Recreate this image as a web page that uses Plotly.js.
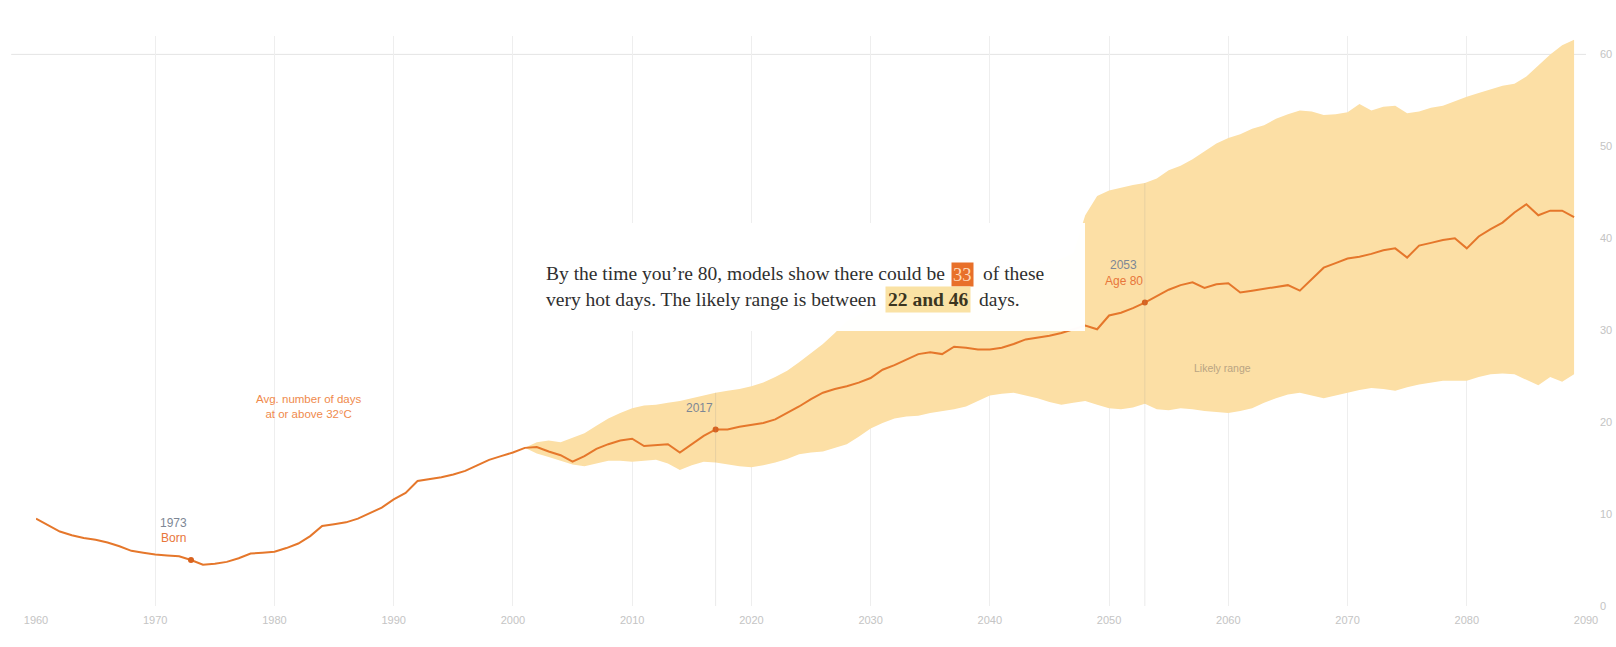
<!DOCTYPE html>
<html>
<head>
<meta charset="utf-8">
<script src="https://cdn.plot.ly/plotly-3.0.1.min.js"></script>
<style>
  html, body { margin: 0; padding: 0; background: #ffffff; }
  #chart { width: 1616px; height: 647px; }
</style>
</head>
<body>
<div id="chart"></div>
<script>
// ---------------- DATA ----------------
const startYear = 1960;
// Median: average number of days at or above 32°C (1960–2089)
const medianDays = [
  9.5, 8.8, 8.1, 7.7, 7.4, 7.2, 6.9, 6.5, 6.0, 5.8,
  5.6, 5.5, 5.4, 5.0, 4.5, 4.6, 4.8, 5.2, 5.7, 5.8,
  5.9, 6.3, 6.8, 7.6, 8.7, 8.9, 9.1, 9.5, 10.1, 10.7,
  11.6, 12.3, 13.6, 13.8, 14.0, 14.3, 14.7, 15.3, 15.9, 16.3,
  16.7, 17.2, 17.3, 16.8, 16.4, 15.7, 16.3, 17.1, 17.6, 18.0,
  18.2, 17.4, 17.5, 17.6, 16.7, 17.6, 18.5, 19.2, 19.2, 19.5,
  19.7, 19.9, 20.3, 21.0, 21.7, 22.5, 23.2, 23.6, 23.9, 24.3,
  24.8, 25.7, 26.2, 26.8, 27.4, 27.6, 27.4, 28.2, 28.1, 27.9,
  27.9, 28.1, 28.5, 29.0, 29.2, 29.4, 29.7, 30.1, 30.5, 30.1,
  31.6, 31.9, 32.4, 33.0, 33.7, 34.4, 34.9, 35.2, 34.6, 35.0,
  35.1, 34.1, 34.3, 34.5, 34.7, 34.9, 34.3, 35.6, 36.8, 37.3,
  37.8, 38.0, 38.3, 38.7, 38.9, 37.9, 39.2, 39.5, 39.8, 40.0,
  38.9, 40.2, 41.0, 41.7, 42.8, 43.7, 42.5, 43.0, 43.0, 42.3
];
// Likely range (2001–2089)
const rangeStartYear = 2001;
const rangeUpper = [
  17.2, 17.8, 18.0, 17.8, 18.3, 18.8, 19.6, 20.4, 21.0,
  21.5, 21.8, 21.9, 22.1, 22.3, 22.6, 22.9, 23.2, 23.4, 23.6,
  23.9, 24.3, 24.9, 25.6, 26.5, 27.5, 28.5, 29.7, 31.0, 31.7,
  32.3, 32.8, 33.3, 33.8, 34.2, 34.5, 34.8, 35.1, 35.4, 35.7,
  36.0, 36.3, 36.6, 36.9, 37.2, 37.5, 37.8, 38.4, 42.5, 44.6,
  45.2, 45.5, 45.8, 46.0, 46.5, 47.4, 47.9, 48.6, 49.5, 50.3,
  50.9, 51.3, 51.9, 52.3, 53.0, 53.5, 53.9, 53.8, 53.4, 53.5,
  53.7, 54.6, 53.9, 54.3, 54.4, 53.6, 53.8, 54.2, 54.4, 54.9,
  55.4, 55.8, 56.2, 56.6, 56.8, 57.6, 58.8, 60.0, 61.0, 61.6
];
const rangeLower = [
  17.2, 16.6, 16.2, 15.8, 15.4, 15.2, 15.5, 15.8, 15.8,
  15.7, 15.8, 15.9, 15.5, 14.8, 15.3, 15.7, 15.6, 15.4, 15.2,
  15.1, 15.3, 15.6, 16.0, 16.5, 16.7, 16.8, 17.2, 17.6, 18.4,
  19.3, 19.9, 20.4, 20.6, 20.7, 21.0, 21.2, 21.4, 21.7, 22.3,
  22.9, 23.1, 23.2, 22.9, 22.6, 22.2, 21.9, 22.1, 22.3, 21.9,
  21.5, 21.4, 21.6, 22.0, 21.4, 21.3, 21.5, 21.4, 21.2, 21.1,
  21.0, 21.2, 21.5, 22.1, 22.6, 23.0, 23.2, 22.9, 22.6, 22.9,
  23.2, 23.5, 23.7, 23.6, 23.4, 23.8, 24.1, 24.3, 24.5, 24.5,
  24.5, 24.9, 25.2, 25.3, 25.2, 24.6, 24.0, 24.9, 24.4, 25.2
];
// Highlighted years
const markerYears = [1973, 2017, 2053];
const markerTop = ["1973", "2017", "2053"];
const markerBottom = ["Born", "", "Age 80"];
// Axis ticks
const xTickVals = [1960, 1970, 1980, 1990, 2000, 2010, 2020, 2030, 2040, 2050, 2060, 2070, 2080, 2090];
const yTickVals = [0, 10, 20, 30, 40, 50, 60];

// ---------------- DERIVED ----------------
const years = medianDays.map((_, i) => startYear + i);
const rangeYears = rangeUpper.map((_, i) => rangeStartYear + i);
const markerVals = markerYears.map(y => medianDays[y - startYear]);
const rangeTopAt = y => rangeUpper[y - rangeStartYear];

// ---------------- LAYOUT GEOMETRY (pixels) ----------------
const W = 1616, H = 647;
const M = { l: 36, r: 30, t: 36, b: 41 };
const PW = W - M.l - M.r, PH = H - M.t - M.b;
const px = x => (x - M.l) / PW;          // pixel x -> paper
const py = y => (H - M.b - y) / PH;      // pixel y -> paper

// fit serif text size to the reference width
const serif = "Liberation Serif, Times New Roman, serif";
const cv = document.createElement("canvas").getContext("2d");
cv.font = "20px " + serif;
const line1a = "By the time you\u2019re 80, models show there could be";
const w20 = cv.measureText(line1a).width;
const boxFont = Math.max(14, Math.min(22, 20 * 399 / w20));

const orange = "#e5772b";
const labelOrange = "#e8763a";
const grayLab = "#7d8795";
const textDark = "#2f2f2f";

// ---------------- TRACES ----------------
const traces = [
  { x: rangeYears, y: rangeLower, type: "scatter", mode: "lines",
    line: { width: 0, color: "rgba(0,0,0,0)" }, hoverinfo: "skip", showlegend: false },
  { x: rangeYears, y: rangeUpper, type: "scatter", mode: "lines", fill: "tonexty",
    fillcolor: "#fcdfa5", line: { width: 0, color: "rgba(0,0,0,0)" }, hoverinfo: "skip", showlegend: false },
  { x: years, y: medianDays, type: "scatter", mode: "lines",
    line: { color: orange, width: 2 }, showlegend: false },
  { x: markerYears, y: markerVals, type: "scatter", mode: "markers",
    marker: { color: "#d8621e", size: 6 }, showlegend: false }
];

// ---------------- SHAPES ----------------
const shapes = [
  // top gridline at 60
  { type: "line", xref: "paper", yref: "y", x0: -0.016, x1: 1, y0: 60, y1: 60,
    line: { color: "#e4e4e4", width: 1 }, layer: "below" },
  // marker guide lines
  { type: "line", xref: "x", yref: "y", x0: markerYears[1], x1: markerYears[1], y0: 0, y1: rangeTopAt(markerYears[1]),
    line: { color: "rgba(150,150,150,0.2)", width: 1 } },
  { type: "line", xref: "x", yref: "y", x0: markerYears[2], x1: markerYears[2], y0: 0, y1: rangeTopAt(markerYears[2]),
    line: { color: "rgba(150,150,150,0.2)", width: 1 } },
  // annotation box
  { type: "rect", xref: "paper", yref: "paper", x0: px(520), x1: px(1085), y0: py(331), y1: py(223),
    fillcolor: "#ffffff", line: { width: 0 }, layer: "above", opacity: 0.98 }
];

// ---------------- ANNOTATIONS ----------------
const sans = "Liberation Sans, Arial, sans-serif";
const annotations = [];
// marker labels
const mk = [
  { dx: -18, top: 37, bot: 22 },
  { dx: -16, top: 21, bot: null },
  { dx: -21, top: 38, bot: 22 }
];
markerYears.forEach((yr, i) => {
  annotations.push({ x: yr, y: markerVals[i], xref: "x", yref: "y", text: markerTop[i],
    showarrow: false, xanchor: "center", xshift: mk[i].dx, yshift: mk[i].top,
    font: { family: sans, size: 12, color: grayLab } });
  if (markerBottom[i]) {
    annotations.push({ x: yr, y: markerVals[i], xref: "x", yref: "y", text: markerBottom[i],
      showarrow: false, xanchor: "center", xshift: mk[i].dx, yshift: mk[i].bot,
      font: { family: sans, size: 12, color: labelOrange } });
  }
});
// series label
annotations.push({ xref: "paper", yref: "paper", x: px(309), y: py(406), xanchor: "center", yanchor: "middle",
  text: "Avg. number of days<br>at or above 32\u00b0C",
  showarrow: false, align: "center", font: { family: sans, size: 11.5, color: "#ef8a4c" } });
// range label
annotations.push({ xref: "paper", yref: "paper", x: px(1222), y: py(368), xanchor: "center", yanchor: "middle",
  text: "Likely range",
  showarrow: false, font: { family: sans, size: 10.5, color: "#b9a483" } });

// box text
const tFont = { family: serif, size: boxFont, color: textDark };
annotations.push({ xref: "paper", yref: "paper", x: px(544), y: py(273), xanchor: "left", yanchor: "middle",
  text: line1a, showarrow: false, font: tFont });
annotations.push({ xref: "paper", yref: "paper", x: px(962.5), y: py(274), xanchor: "center", yanchor: "middle",
  text: "33", showarrow: false, bgcolor: "#e8702a", borderpad: 1,
  font: { family: serif, size: boxFont - 1, color: "#ffd9b8" } });
annotations.push({ xref: "paper", yref: "paper", x: px(981), y: py(273), xanchor: "left", yanchor: "middle",
  text: "of these", showarrow: false, font: tFont });
annotations.push({ xref: "paper", yref: "paper", x: px(544), y: py(299), xanchor: "left", yanchor: "middle",
  text: "very hot days. The likely range is between", showarrow: false, font: tFont });
annotations.push({ xref: "paper", yref: "paper", x: px(928), y: py(299), xanchor: "center", yanchor: "middle",
  text: "<b>22 and 46</b>", showarrow: false, bgcolor: "#fae2a4", borderpad: 2,
  font: { family: serif, size: boxFont, color: "#3a3520" } });
annotations.push({ xref: "paper", yref: "paper", x: px(977), y: py(299), xanchor: "left", yanchor: "middle",
  text: "days.", showarrow: false, font: tFont });

// ---------------- LAYOUT ----------------
const layout = {
  width: W, height: H,
  margin: M,
  paper_bgcolor: "#ffffff", plot_bgcolor: "#ffffff",
  showlegend: false,
  xaxis: {
    range: [1960, 2090], tickvals: xTickVals, ticktext: xTickVals.map(String),
    showgrid: true, gridcolor: "#eeeeee", gridwidth: 1,
    zeroline: false, showline: false, ticks: "", ticklabelstandoff: 6,
    tickfont: { family: sans, size: 11, color: "#c4c4c4" }
  },
  yaxis: {
    range: [0, 62], side: "right", tickvals: yTickVals, ticktext: yTickVals.map(String),
    showgrid: false, zeroline: false, showline: false, ticks: "", ticklabelstandoff: 13,
    tickfont: { family: sans, size: 11, color: "#c4c4c4" }
  },
  shapes: shapes,
  annotations: annotations
};

Plotly.newPlot("chart", traces, layout, { displayModeBar: false, staticPlot: true });
</script>
</body>
</html>
